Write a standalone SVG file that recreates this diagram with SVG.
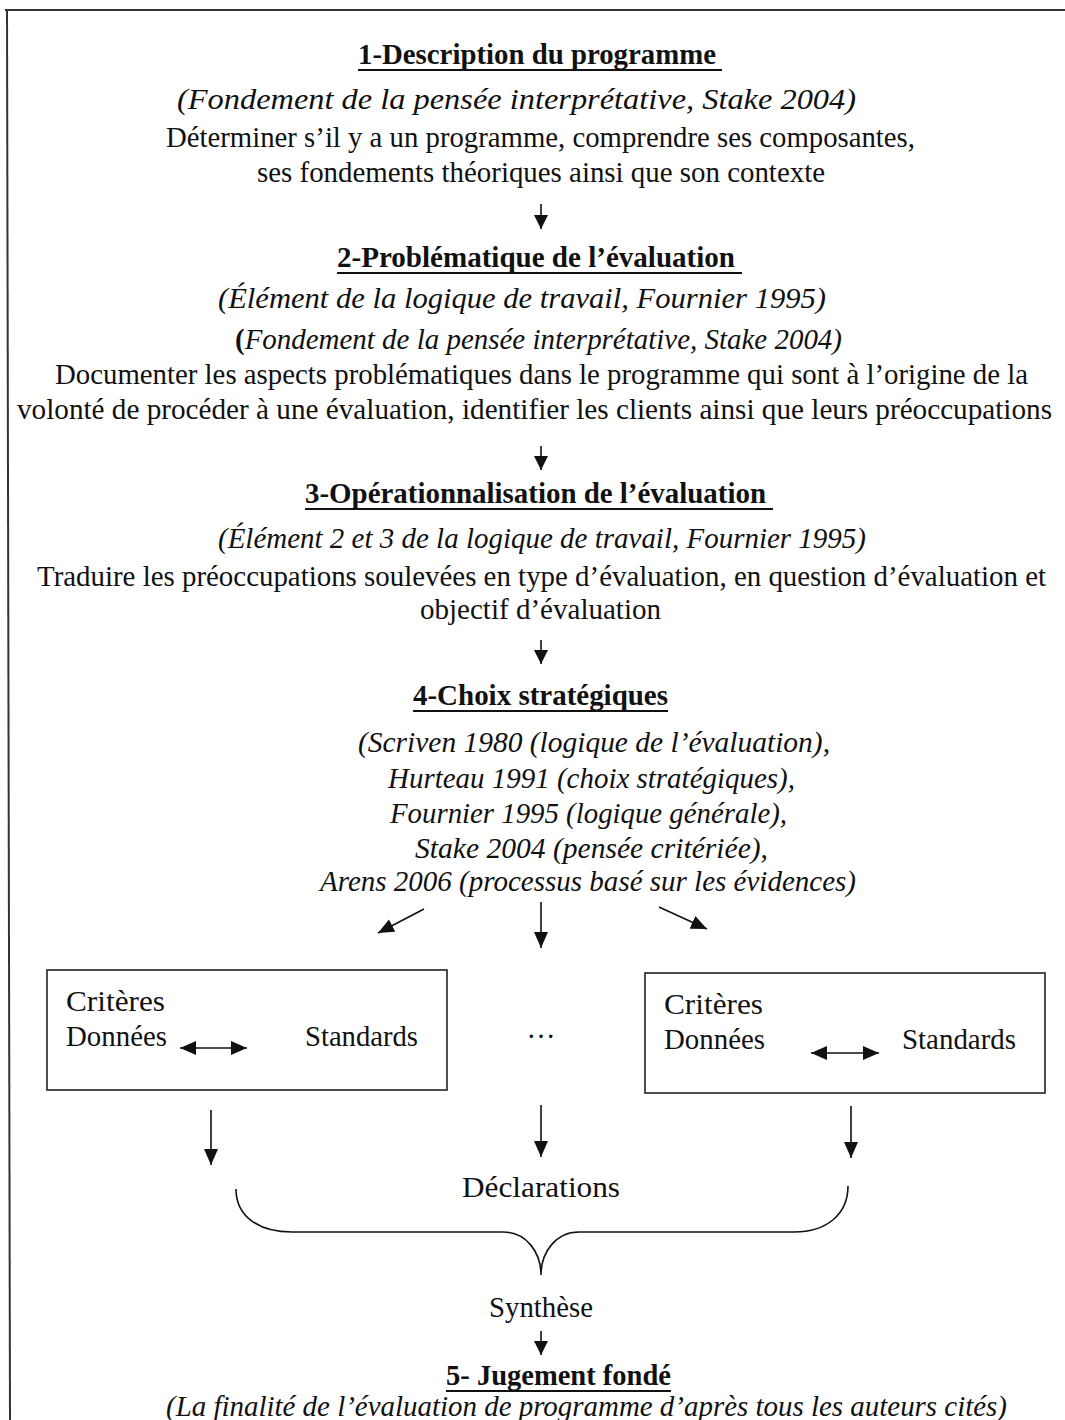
<svg xmlns="http://www.w3.org/2000/svg" width="1065" height="1420" viewBox="0 0 1065 1420">
  <style>
    text { font-family: "Liberation Serif", "Times New Roman", serif; fill: #111; }
    .r { font-size: 29px; }
    .i { font-size: 29px; font-style: italic; }
    .b { font-size: 29px; font-weight: bold; }
    .ul { stroke: #111; stroke-width: 2; }
    .edge { stroke: #111; stroke-width: 1.6; fill: none; }
    .frame { stroke: #333; stroke-width: 2; fill: none; }
    .box { stroke: #222; stroke-width: 1.6; fill: #fff; }
  </style>
  <defs>
    <marker id="head" markerUnits="userSpaceOnUse" markerWidth="16" markerHeight="16" refX="14" refY="7" orient="auto">
      <path d="M0,0 L14,7 L0,14 Z" fill="#111"/>
    </marker>
    <marker id="headL" markerUnits="userSpaceOnUse" markerWidth="18" markerHeight="16" refX="16" refY="7" orient="auto">
      <path d="M0,0 L16,7 L0,14 Z" fill="#111"/>
    </marker>
    <marker id="tail" markerUnits="userSpaceOnUse" markerWidth="18" markerHeight="16" refX="0" refY="7" orient="auto">
      <path d="M16,0 L0,7 L16,14 Z" fill="#111"/>
    </marker>
  </defs>

  <rect width="1065" height="1420" fill="#fff"/>

  <!-- page frame -->
  <path class="frame" d="M5,10 L1065,10"/>
  <path class="frame" d="M7,10 L10,1420"/>

  <!-- step 1 -->
  <g id="step1">
    <text class="b" x="358" y="64" textLength="358" lengthAdjust="spacingAndGlyphs">1-Description du programme</text>
    <line class="ul" x1="358" y1="70" x2="722" y2="70"/>
    <text class="i" x="177" y="109" textLength="679" lengthAdjust="spacingAndGlyphs">(Fondement de la pensée interprétative, Stake 2004)</text>
    <text class="r" x="166" y="147" textLength="749" lengthAdjust="spacingAndGlyphs">Déterminer s’il y a un programme, comprendre ses composantes,</text>
    <text class="r" x="257" y="182" textLength="568" lengthAdjust="spacingAndGlyphs">ses fondements théoriques ainsi que son contexte</text>
  </g>

  <!-- step 2 -->
  <g id="step2">
    <text class="b" x="337" y="267" textLength="398" lengthAdjust="spacingAndGlyphs">2-Problématique de l’évaluation</text>
    <line class="ul" x1="337" y1="273" x2="742" y2="273"/>
    <text class="i" x="218" y="308" textLength="608" lengthAdjust="spacingAndGlyphs">(Élément de la logique de travail, Fournier 1995)</text>
    <text class="i" x="235" y="349" textLength="607" lengthAdjust="spacingAndGlyphs"><tspan font-weight="bold" font-style="normal">(</tspan>Fondement de la pensée interprétative, Stake 2004)</text>
    <text class="r" x="55" y="384" textLength="973" lengthAdjust="spacingAndGlyphs">Documenter les aspects problématiques dans le programme qui sont à l’origine de la</text>
    <text class="r" x="17" y="419" textLength="1035" lengthAdjust="spacingAndGlyphs">volonté de procéder à une évaluation, identifier les clients ainsi que leurs préoccupations</text>
  </g>

  <!-- step 3 -->
  <g id="step3">
    <text class="b" x="305" y="503" textLength="461" lengthAdjust="spacingAndGlyphs">3-Opérationnalisation de l’évaluation</text>
    <line class="ul" x1="305" y1="509" x2="773" y2="509"/>
    <text class="i" x="218" y="548" textLength="648" lengthAdjust="spacingAndGlyphs">(Élément 2 et 3 de la logique de travail, Fournier 1995)</text>
    <text class="r" x="37" y="586" textLength="1009" lengthAdjust="spacingAndGlyphs">Traduire les préoccupations soulevées en type d’évaluation, en question d’évaluation et</text>
    <text class="r" x="420" y="619" textLength="241" lengthAdjust="spacingAndGlyphs">objectif d’évaluation</text>
  </g>

  <!-- step 4 -->
  <g id="step4">
    <text class="b" x="413" y="705" textLength="255" lengthAdjust="spacingAndGlyphs">4-Choix stratégiques</text>
    <line class="ul" x1="413" y1="711" x2="668" y2="711"/>
    <text class="i" x="358" y="752" textLength="472" lengthAdjust="spacingAndGlyphs">(Scriven 1980 (logique de l’évaluation),</text>
    <text class="i" x="388" y="788" textLength="407" lengthAdjust="spacingAndGlyphs">Hurteau 1991 (choix stratégiques),</text>
    <text class="i" x="390" y="823" textLength="397" lengthAdjust="spacingAndGlyphs">Fournier 1995 (logique générale),</text>
    <text class="i" x="415" y="858" textLength="353" lengthAdjust="spacingAndGlyphs">Stake 2004 (pensée critériée),</text>
    <text class="i" x="320" y="891" textLength="536" lengthAdjust="spacingAndGlyphs">Arens 2006 (processus basé sur les évidences)</text>
  </g>

  <!-- criteria boxes -->
  <g id="criteria-left">
    <rect class="box" x="47" y="970" width="400" height="120"/>
    <text class="r" x="66" y="1011" textLength="99" lengthAdjust="spacingAndGlyphs">Critères</text>
    <text class="r" x="66" y="1046" textLength="101" lengthAdjust="spacingAndGlyphs">Données</text>
    <text class="r" x="305" y="1046" textLength="113" lengthAdjust="spacingAndGlyphs">Standards</text>
    <line class="edge" x1="180" y1="1048" x2="247" y2="1048" marker-start="url(#tail)" marker-end="url(#headL)"/>
  </g>

  <g id="criteria-more">
    <text class="r" x="541" y="1038" text-anchor="middle">…</text>
  </g>

  <g id="criteria-right">
    <rect class="box" x="645" y="973" width="400" height="120"/>
    <text class="r" x="664" y="1014" textLength="99" lengthAdjust="spacingAndGlyphs">Critères</text>
    <text class="r" x="664" y="1049" textLength="101" lengthAdjust="spacingAndGlyphs">Données</text>
    <text class="r" x="902" y="1049" textLength="114" lengthAdjust="spacingAndGlyphs">Standards</text>
    <line class="edge" x1="811" y1="1053" x2="879" y2="1053" marker-start="url(#tail)" marker-end="url(#headL)"/>
  </g>

  <!-- declarations and synthesis -->
  <g id="declarations">
    <text class="r" x="462" y="1197" textLength="158" lengthAdjust="spacingAndGlyphs">Déclarations</text>
  </g>

  <g id="synthesis">
    <text class="r" x="489" y="1317" textLength="104" lengthAdjust="spacingAndGlyphs">Synthèse</text>
  </g>

  <!-- step 5 -->
  <g id="step5">
    <text class="b" x="446" y="1385" textLength="225" lengthAdjust="spacingAndGlyphs">5- Jugement fondé</text>
    <line class="ul" x1="446" y1="1391" x2="671" y2="1391"/>
    <text class="i" x="166" y="1416" textLength="841" lengthAdjust="spacingAndGlyphs">(La finalité de l’évaluation de programme d’après tous les auteurs cités)</text>
  </g>

  <!-- connectors -->
  <g id="connectors">
    <line class="edge" x1="541" y1="204" x2="541" y2="229" marker-end="url(#head)"/>
    <line class="edge" x1="541" y1="446" x2="541" y2="470" marker-end="url(#head)"/>
    <line class="edge" x1="541" y1="640" x2="541" y2="664" marker-end="url(#head)"/>
    <line class="edge" x1="424" y1="909" x2="378" y2="933" marker-end="url(#headL)"/>
    <line class="edge" x1="541" y1="902" x2="541" y2="948" marker-end="url(#headL)"/>
    <line class="edge" x1="659" y1="907" x2="707" y2="929" marker-end="url(#headL)"/>
    <line class="edge" x1="211" y1="1110" x2="211" y2="1165" marker-end="url(#headL)"/>
    <line class="edge" x1="541" y1="1105" x2="541" y2="1157" marker-end="url(#headL)"/>
    <line class="edge" x1="851" y1="1106" x2="851" y2="1158" marker-end="url(#headL)"/>
    <path class="edge" d="M236,1189 C236,1216 258,1232 292,1232 L503,1232 C526,1232 541,1252 541,1275 C541,1252 556,1232 579,1232 L794,1232 C827,1232 848,1214 848,1186"/>
    <line class="edge" x1="541" y1="1331" x2="541" y2="1355" marker-end="url(#head)"/>
  </g>
</svg>
